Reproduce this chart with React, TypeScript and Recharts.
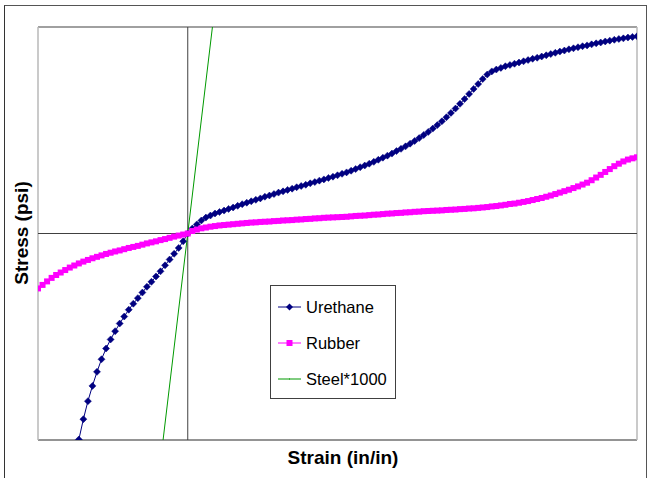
import React from "react";
import { LineChart, Line, XAxis, YAxis, ReferenceLine } from "recharts";

// Strain grid (in/in)
const STRAIN = [
  -0.33, -0.32, -0.31, -0.3, -0.29, -0.28, -0.27, -0.26, -0.25, -0.24, -0.23, -0.22, -0.21, -0.2, -0.19, -0.18, -0.17,
  -0.16, -0.15, -0.14, -0.13, -0.12, -0.11, -0.1, -0.09, -0.08, -0.07, -0.06, -0.05, -0.04, -0.03, -0.02, -0.01, 0,
  0.01, 0.02, 0.03, 0.04, 0.05, 0.06, 0.07, 0.08, 0.09, 0.1, 0.11, 0.12, 0.13, 0.14, 0.15, 0.16, 0.17, 0.18, 0.19, 0.2,
  0.21, 0.22, 0.23, 0.24, 0.25, 0.26, 0.27, 0.28, 0.29, 0.3, 0.31, 0.32, 0.33, 0.34, 0.35, 0.36, 0.37, 0.38, 0.39, 0.4,
  0.41, 0.42, 0.43, 0.44, 0.45, 0.46, 0.47, 0.48, 0.49, 0.5, 0.51, 0.52, 0.53, 0.54, 0.55, 0.56, 0.57, 0.58, 0.59, 0.6,
  0.61, 0.62, 0.63, 0.64, 0.65, 0.66, 0.67, 0.68, 0.69, 0.7, 0.71, 0.72, 0.73, 0.74, 0.75, 0.76, 0.77, 0.78, 0.79, 0.8,
  0.81, 0.82, 0.83, 0.84, 0.85, 0.86, 0.87, 0.88, 0.89, 0.9, 0.91, 0.92, 0.93, 0.94, 0.95, 0.96, 0.97, 0.98, 0.99,
];

// Urethane stress (psi), strain -0.24 .. 0.99
const URETHANE_STRAIN = STRAIN.slice(9);
const URETHANE = [
  -998, -899, -812, -738, -670, -609, -557, -513, -473, -436, -402, -369, -340, -313, -286, -258, -234, -208, -183,
  -154, -126, -98, -70, -38, 0,
  24, 44, 63, 77, 87, 97, 104, 111, 119, 126,
  134, 142, 149, 156, 163, 170, 178, 184, 191, 198,
  204, 211, 217, 224, 230, 236, 243, 249, 256, 262,
  269, 275, 282, 289, 296, 304, 312, 321, 329, 338,
  347, 357, 367, 377, 387, 399, 410, 422, 435, 448,
  462, 477, 492, 508, 525, 543, 563, 584, 605, 628,
  651, 676, 700, 724, 748, 770, 785, 794, 802, 810,
  816, 822, 828, 834, 840, 846, 851, 857, 863, 869,
  875, 881, 886, 892, 897, 902, 907, 911, 916, 921,
  925, 930, 934, 938, 942, 945, 949, 952, 955,
];

// Rubber stress (psi), strain -0.33 .. 0.99
const RUBBER = [
  -266, -249, -232, -215, -201, -189, -177, -165, -155, -145,
  -136, -128, -120, -113, -106, -99, -93, -87, -82, -76,
  -70, -65, -60, -54, -48, -43, -38, -32, -27, -21,
  -15, -10, -5, 0,
  12, 19, 25, 29, 33, 36, 39, 41, 43, 45,
  47, 49, 51, 53, 54, 56, 57, 58, 60, 61,
  63, 64, 65, 67, 68, 70, 71, 73, 74, 76,
  77, 78, 79, 80, 81, 83, 85, 86, 87, 89,
  91, 92, 94, 96, 97, 99, 100, 102, 103, 105,
  106, 108, 109, 110, 111, 112, 114, 115, 116, 118,
  119, 121, 122, 124, 126, 128, 131, 133, 136, 139,
  143, 145, 149, 153, 157, 162, 167, 172, 178, 184,
  191, 198, 205, 212, 220, 228, 237, 246, 258, 271,
  284, 298, 312, 326, 338, 349, 358, 364, 369,
];

// Steel*1000 (straight line)
const STEEL_STRAIN = [-0.0544, 0.0544];
const STEEL = [-1000, 1000];

const SERIES_NAMES = ["Urethane", "Rubber", "Steel*1000"];
const X_TITLE = "Strain (in/in)";
const Y_TITLE = "Stress (psi)";

const NAVY = "#000080";
const MAGENTA = "#FF00FF";
const GREEN = "#009900";

const urethaneData = URETHANE.map((v, i) => ({ x: URETHANE_STRAIN[i], y: v }));
const rubberData = RUBBER.map((v, i) => ({ x: STRAIN[i], y: v }));
const steelData = STEEL.map((v, i) => ({ x: STEEL_STRAIN[i], y: v }));

const DiamondDot = (props: any) => {
  const { cx, cy, index } = props;
  if (cx == null || cy == null) return <g key={"d" + index} />;
  const r = 3.5;
  return (
    <polygon
      key={"d" + index}
      points={`${cx},${cy - r} ${cx + r},${cy} ${cx},${cy + r} ${cx - r},${cy}`}
      fill={NAVY}
      stroke={NAVY}
      strokeWidth={0.5}
    />
  );
};

const SquareDot = (props: any) => {
  const { cx, cy, index } = props;
  if (cx == null || cy == null) return <g key={"s" + index} />;
  const r = 3;
  return <rect key={"s" + index} x={cx - r} y={cy - r} width={2 * r} height={2 * r} fill={MAGENTA} />;
};

const LegendBox = () => {
  const rows = [
    { name: SERIES_NAMES[0], color: NAVY, marker: "diamond" },
    { name: SERIES_NAMES[1], color: MAGENTA, marker: "square" },
    { name: SERIES_NAMES[2], color: GREEN, marker: "none" },
  ];
  return (
    <div
      style={{
        position: "absolute",
        left: 270,
        top: 285,
        width: 124,
        height: 109,
        border: "1px solid #404040",
        background: "#fff",
        paddingTop: 3,
        boxSizing: "content-box",
      }}
    >
      {rows.map((r) => (
        <div key={r.name} style={{ height: 36, display: "flex", alignItems: "center" }}>
          <svg width={35} height={12} style={{ display: "block" }}>
            <line x1={7} y1={6} x2={30} y2={6} stroke={r.color} strokeWidth={1} />
            {r.marker === "diamond" && <polygon points="18.5,2.5 22,6 18.5,9.5 15,6" fill={r.color} />}
            {r.marker === "square" && <rect x={15.5} y={3} width={6} height={6} fill={r.color} />}
            {r.marker === "none" && <rect x={18} y={5.5} width={1} height={1} fill={r.color} />}
          </svg>
          <span
            style={{
              fontFamily: "'Liberation Sans', Arial, sans-serif",
              fontSize: 16.5,
              color: "#000",
              whiteSpace: "nowrap",
            }}
          >
            {r.name}
          </span>
        </div>
      ))}
    </div>
  );
};

export default function App() {
  return (
    <div style={{ position: "absolute", left: 0, top: 0, width: 647, height: 478, background: "#fff", overflow: "hidden" }}>
      <div
        style={{
          position: "absolute",
          left: 4,
          top: 5,
          width: 641,
          height: 490,
          borderLeft: "1px solid #333",
          borderTop: "1px solid #555",
          borderRight: "1px solid #555",
        }}
      />
      <div style={{ position: "absolute", left: 0, top: 0 }}>
        <LineChart width={647} height={478} margin={{ top: 27, right: 10, bottom: 38, left: 38 }}>
          <XAxis dataKey="x" type="number" domain={[-0.33, 0.99]} hide allowDataOverflow />
          <YAxis dataKey="y" type="number" domain={[-1000, 1000]} hide allowDataOverflow />
          <ReferenceLine y={1000} stroke="#808080" strokeWidth={1.5} />
          <ReferenceLine y={-1000} stroke="#707070" strokeWidth={1.5} />
          <ReferenceLine x={-0.33} stroke="#b8b8b8" strokeWidth={1.5} />
          <ReferenceLine x={0.99} stroke="#b8b8b8" strokeWidth={1.5} />
          <ReferenceLine x={0} stroke="#404040" strokeWidth={1} />
          <ReferenceLine y={0} stroke="#404040" strokeWidth={1} />
          <Line
            data={urethaneData}
            dataKey="y"
            name={SERIES_NAMES[0]}
            stroke={NAVY}
            strokeWidth={1}
            dot={DiamondDot}
            activeDot={false}
            isAnimationActive={false}
          />
          <Line
            data={rubberData}
            dataKey="y"
            name={SERIES_NAMES[1]}
            stroke={MAGENTA}
            strokeWidth={1}
            dot={SquareDot}
            activeDot={false}
            isAnimationActive={false}
          />
          <Line
            data={steelData}
            dataKey="y"
            name={SERIES_NAMES[2]}
            stroke={GREEN}
            strokeWidth={1}
            dot={false}
            activeDot={false}
            isAnimationActive={false}
          />
        </LineChart>
      </div>
      <LegendBox />
      <div
        style={{
          position: "absolute",
          left: 243,
          top: 448,
          width: 200,
          textAlign: "center",
          fontFamily: "'Liberation Sans', Arial, sans-serif",
          fontWeight: "bold",
          fontSize: 19,
          lineHeight: "20px",
          color: "#000",
        }}
      >
        {X_TITLE}
      </div>
      <div
        style={{
          position: "absolute",
          left: 22 - 100,
          top: 233 - 10,
          width: 200,
          textAlign: "center",
          transform: "rotate(-90deg)",
          fontFamily: "'Liberation Sans', Arial, sans-serif",
          fontWeight: "bold",
          fontSize: 19,
          lineHeight: "20px",
          color: "#000",
        }}
      >
        {Y_TITLE}
      </div>
    </div>
  );
}
